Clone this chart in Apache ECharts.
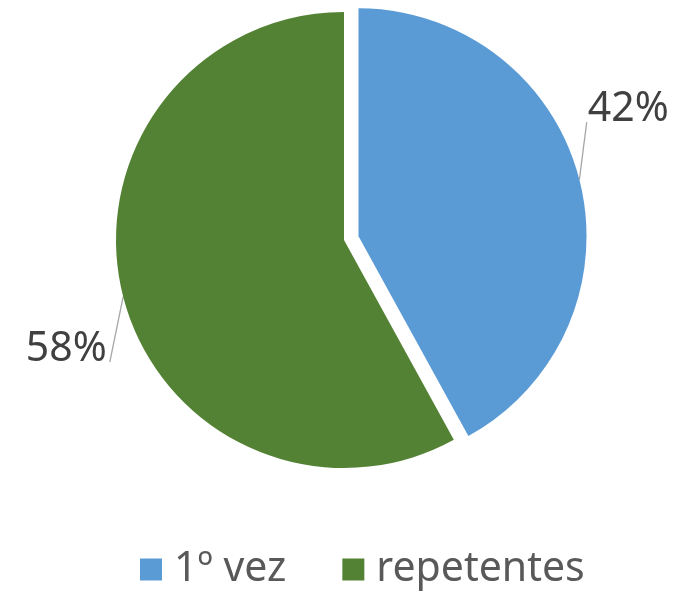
<!DOCTYPE html>
<html lang="pt">
<head>
    <meta charset="UTF-8">
    <title>Pie</title>
    <script src="https://cdn.jsdelivr.net/npm/echarts@6/dist/echarts.min.js"></script>
    <style>
        html, body { margin: 0; padding: 0; background: #fff; }
    </style>
</head>
<body>
    <div id="main" style="width: 687px;height:592px;"></div>
    <script>
        // dados
        var categories = ['1º vez', 'repetentes'];
        var values = [42, 58];
        var colors = ['#5B9BD5', '#548235'];

        // décalage des étiquettes (dx, dy) et coin du texte où finit le trait
        var labelShift = [
            { dx: -16, dy: -65, corner: 'bottomLeft' },
            { dx: 8, dy: 48, corner: 'bottomRight' }
        ];

        var myChart = echarts.init(document.getElementById('main'));
        var option = {
            animation: false,
            color: colors,
            legend: {
                data: categories,
                left: 135,
                top: 544,
                itemWidth: 22,
                itemHeight: 22,
                itemGap: 56,
                icon: 'rect',
                textStyle: {
                    fontFamily: 'Noto Sans',
                    fontSize: 41,
                    color: '#595959',
                    padding: [0, 0, 0, 7]
                }
            },
            series: [
                {
                    type: 'pie',
                    center: [344, 240],
                    radius: 228,
                    startAngle: 90,
                    selectedMode: 'single',
                    selectedOffset: 15,
                    label: {
                        show: true,
                        formatter: '{c}%',
                        fontFamily: 'Noto Sans',
                        fontSize: 41,
                        color: '#404040'
                    },
                    labelLine: {
                        show: true,
                        length: 20,
                        length2: 0,
                        lineStyle: { color: '#A6A6A6', width: 1.3 }
                    },
                    labelLayout: function (params) {
                        var s = labelShift[params.dataIndex];
                        var r = params.labelRect;
                        var start = params.labelLinePoints ? params.labelLinePoints[0] : null;
                        var bottom = r.y + s.dy + r.height - 8;
                        var end = s.corner === 'bottomLeft'
                            ? [r.x + s.dx - 1, bottom]
                            : [r.x + s.dx + r.width + 3, bottom];
                        var out = { dx: s.dx, dy: s.dy };
                        if (start) {
                            out.labelLinePoints = [start, end];
                        }
                        return out;
                    },
                    emphasis: { disabled: true },
                    itemStyle: { borderWidth: 0 },
                    data: categories.map(function (name, i) {
                        return { name: name, value: values[i], selected: i === 0 };
                    })
                }
            ]
        };
        myChart.setOption(option);
    </script>
</body>
</html>
